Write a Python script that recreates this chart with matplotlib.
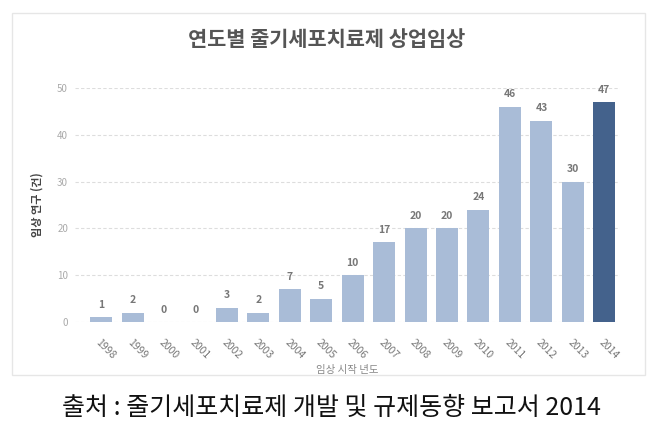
import matplotlib
matplotlib.use("Agg")
import matplotlib.pyplot as plt
from matplotlib.patches import Rectangle

plt.rcParams['font.family'] = ['Noto Sans CJK KR', 'DejaVu Sans']

years = ['1998', '1999', '2000', '2001', '2002', '2003', '2004', '2005', '2006',
         '2007', '2008', '2009', '2010', '2011', '2012', '2013', '2014']
counts = [1, 2, 0, 0, 3, 2, 7, 5, 10, 17, 20, 20, 24, 46, 43, 30, 47]
yticks = [0, 10, 20, 30, 40, 50]

title = '연도별 줄기세포치료제 상업임상'
ylabel = '임상 연구 (건)'
xlabel = '임상 시작 년도'
caption = '출처 : 줄기세포치료제 개발 및 규제동향 보고서 2014'

fig = plt.figure(figsize=(6.57, 4.36), dpi=100)
ax = fig.add_axes([75/657, 1-322/436, (620-75)/657, (322-88)/436])

colors = ['#a9bcd7'] * (len(years) - 1) + ['#44628c']
x = list(range(len(years)))
bars = ax.bar(x, counts, width=0.7, color=colors, zorder=2)

for xi, v in zip(x, counts):
    ax.text(xi, v + 1.6, str(v), ha='center', va='bottom', fontsize=7.5,
            color='#777777', fontweight='bold', clip_on=False)

ax.set_xlim(-0.83, 16.5)
ax.set_ylim(0, 50)
ax.set_yticks(yticks)
ax.set_xticks(x)
ax.set_xticklabels(years, rotation=-45, ha='left', rotation_mode='anchor',
                   fontsize=7.5, color='#777777')
ax.tick_params(axis='y', labelsize=7, colors='#aaaaaa', length=0, pad=5)
ax.tick_params(axis='x', length=0, pad=11)
ax.grid(axis='y', linestyle=(0, (3, 2)), color='#dddddd', linewidth=0.8, zorder=0)
for s in ax.spines.values():
    s.set_visible(False)

ax.set_ylabel(ylabel, fontsize=8, color='#444444', labelpad=10, fontweight='bold')
ax.set_xlabel(xlabel, fontsize=7.5, color='#888888', labelpad=3)

fig.text(327/657, 1-40/436, title, ha='center', va='center', fontsize=15,
         fontweight='bold', color='#555555')

fig.patches.append(Rectangle((12/657, 1-375/436), (645-12)/657, (375-13)/436,
                             transform=fig.transFigure, fill=False,
                             edgecolor='#e6e6e6', linewidth=1))

fig.text(331/657, 1-408/436, caption, ha='center', va='center', fontsize=18,
         color='#111111')

fig.savefig('out.png', dpi=100)
